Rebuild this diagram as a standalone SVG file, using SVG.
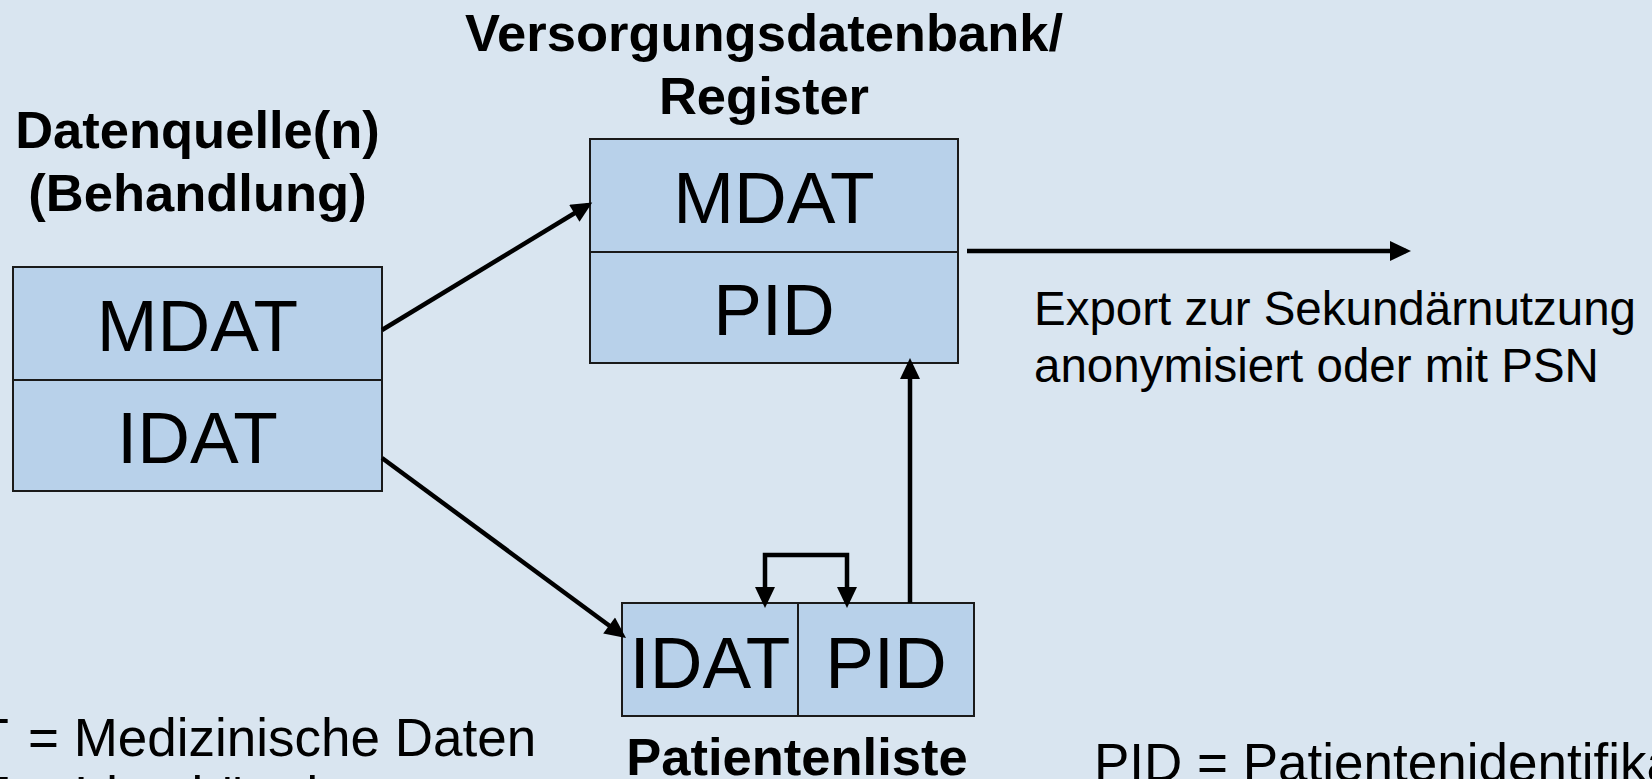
<svg xmlns="http://www.w3.org/2000/svg" width="1652" height="779" viewBox="0 0 1652 779">
<defs>
<style>
.bg{fill:#D9E5F0}
.box{fill:#B8D1EA;stroke:#1a1a1a;stroke-width:2}
.div{stroke:#1a1a1a;stroke-width:2;fill:none}
.big{font-family:"Liberation Sans",Arial,sans-serif;font-size:73px;fill:#000;text-anchor:middle}
.hd{font-family:"Liberation Sans",Arial,sans-serif;font-size:52.5px;font-weight:bold;fill:#000;text-anchor:middle}
.txt{font-family:"Liberation Sans",Arial,sans-serif;font-size:47.5px;fill:#000}
.leg{font-family:"Liberation Sans",Arial,sans-serif;font-size:53px;fill:#000}
.con{stroke:#000;stroke-width:4.5;fill:none}
</style>
<marker id="ah" markerUnits="userSpaceOnUse" markerWidth="22" markerHeight="20" viewBox="0 0 21 20" refX="16" refY="10" orient="auto-start-reverse">
<path d="M0,0 L21,10 L0,20 z" fill="#000"/>
</marker>
</defs>
<rect class="bg" x="0" y="0" width="1652" height="779"/>

<g id="title-register">
<text class="hd" x="764" y="51">Versorgungsdatenbank/</text>
<text class="hd" x="764" y="114">Register</text>
</g>
<g id="title-quelle">
<text class="hd" x="197.5" y="148">Datenquelle(n)</text>
<text class="hd" x="197.5" y="211">(Behandlung)</text>
</g>

<g id="datenquelle">
<rect class="box" x="13" y="267" width="369" height="224"/>
<line class="div" x1="13" y1="380" x2="382" y2="380"/>
<text class="big" x="197.5" y="351">MDAT</text>
<text class="big" x="197.5" y="463">IDAT</text>
</g>

<g id="register">
<rect class="box" x="590" y="139" width="368" height="224"/>
<line class="div" x1="590" y1="252" x2="958" y2="252"/>
<text class="big" x="774" y="223">MDAT</text>
<text class="big" x="774" y="335">PID</text>
</g>

<g id="patientenliste">
<rect class="box" x="622" y="603" width="352" height="113"/>
<line class="div" x1="798" y1="603" x2="798" y2="716"/>
<text class="big" x="710" y="688">IDAT</text>
<text class="big" x="886" y="688">PID</text>
<text class="hd" x="797" y="775">Patientenliste</text>
</g>

<g id="connectors">
<line class="con" x1="382" y1="330" x2="588" y2="205" marker-end="url(#ah)"/>
<line class="con" x1="382" y1="458" x2="622" y2="635" marker-end="url(#ah)"/>
<line class="con" x1="910" y1="603" x2="910" y2="363" marker-end="url(#ah)"/>
<line class="con" x1="967" y1="251" x2="1406" y2="251" marker-end="url(#ah)"/>
<path class="con" d="M765,603 V555 H847 V603" marker-start="url(#ah)" marker-end="url(#ah)"/>
</g>

<g id="export-label">
<text class="txt" x="1034" y="325">Export zur Sekundärnutzung</text>
<text class="txt" x="1034" y="382">anonymisiert oder mit PSN</text>
</g>

<g id="legend">
<text class="leg" x="9" y="756" text-anchor="end">MDAT</text>
<text class="leg" x="28" y="756">= Medizinische Daten</text>
<text class="leg" x="9" y="814" text-anchor="end">IDAT</text>
<text class="leg" x="28" y="814">= Identitätsdaten</text>
<text class="leg" x="1094" y="781">PID = Patientenidentifikator</text>
</g>
</svg>
